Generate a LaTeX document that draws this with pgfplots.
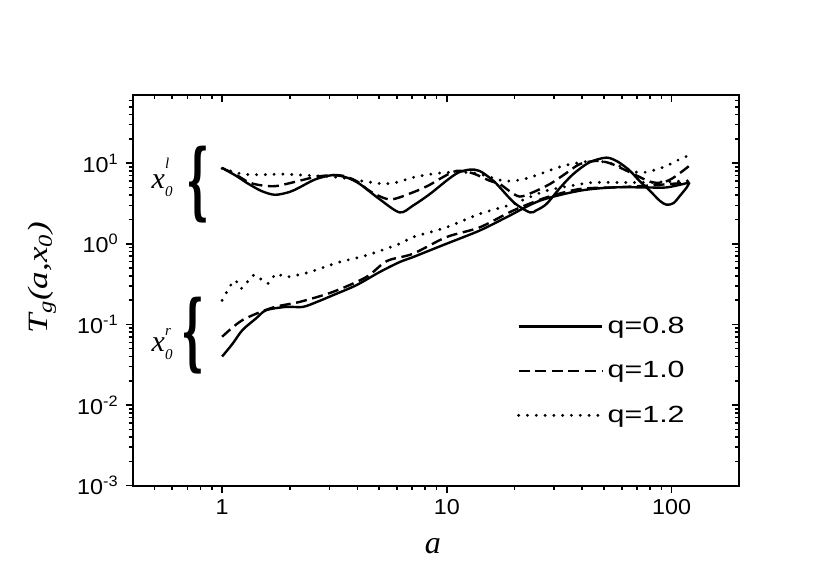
\documentclass[border=0pt]{standalone}
\usepackage{fontspec}
\setmainfont{Liberation Sans}
\newfontfamily\tickfont[FakeStretch=1.08]{Liberation Sans}
\newfontfamily\legfont[FakeStretch=1.3]{Liberation Sans}
\newfontfamily\tnr{Liberation Serif}
\newfontfamily\tnrlab[FakeStretch=1.25]{Liberation Serif}
\newfontfamily\bracefont{DejaVu Serif}
\usepackage{graphicx}
\usepackage{pgfplots}
\pgfplotsset{compat=1.18}
\tikzset{
 solidc/.style={black, line width=1.2pt},
 dashc/.style={black, line width=1.2pt, dash pattern=on 5.5pt off 2.8pt},
 dotc/.style={black, line width=1.6pt, line cap=round, dash pattern=on 0pt off 4.4pt},
}
\begin{document}
\begin{tikzpicture}
\begin{axis}[name=ax,
   xmode=log, ymode=log, scale only axis,
   width=303.3pt, height=195.35pt,
   xmin=0.4, xmax=200, ymin=0.001, ymax=70,
   axis line style={line width=1pt},
   tick style={line width=0.8pt, black},
   major tick length=3.5pt, minor tick length=2pt,
   xtick={1,10,100},
   minor xtick={0.5,0.6,0.7,0.8,0.9,2,3,4,5,6,7,8,9,20,30,40,50,60,70,80,90},
   ytick={0.001,0.01,0.1,1,10},
   minor ytick={0.002,0.003,0.004,0.005,0.006,0.007,0.008,0.009,0.02,0.03,0.04,0.05,0.06,0.07,0.08,0.09,0.2,0.3,0.4,0.5,0.6,0.7,0.8,0.9,2,3,4,5,6,7,8,9,20,30,40,50,60},
   xtick pos=bottom, ytick pos=left, tick align=outside,
   xticklabels={1,10,100},
   yticklabels={10\textsuperscript{-3},10\textsuperscript{-2},10\textsuperscript{-1},10\textsuperscript{0},10\textsuperscript{1}},
   ticklabel style={font=\tickfont\fontsize{10.8}{12}\selectfont},
   xlabel={\tnr\itshape\fontsize{16}{16}\selectfont a},
   xlabel style={at={(rel axis cs:0.495,0)}, anchor=center, yshift=-30pt},
   ylabel={\tnrlab\itshape\fontsize{14}{14}\selectfont T\textsubscript{g}(a,x\textsubscript{0})},
   ylabel style={at={(rel axis cs:0,0.532)}, anchor=center, yshift=45.35pt},
   legend style={draw=none, fill=none, at={(rel axis cs:0.633,0.443)}, anchor=north west,
      inner sep=0pt, row sep=8.5pt, font=\legfont\fontsize{11.7}{13}\selectfont},
   legend cell align=left,
   legend image code/.code={\draw[#1] (0pt,0pt) -- (41.7pt,0pt);},
]
% upper group (x0^l)
\addplot[solidc, smooth, forget plot] coordinates {
(1,8.7) (1.15,7.0) (1.3,5.6) (1.5,4.5) (1.72,4.05) (2.0,4.4) (2.21,5.0) (2.6,6.3) (3.1,7.1) (3.6,6.6) (4.1,5.5) (5.0,3.6) (6.16,2.45) (7.06,2.97) (8.4,4.14) (9.95,6.05) (11.2,7.6) (12.6,8.3) (14,8.0) (16.1,6.05) (17.2,5.0) (20,3.2) (23.4,2.45) (25,2.6) (27.75,3.12) (32,5.0) (36.5,7.32) (43,10.2) (51.3,11.7) (58,10.3) (65.2,8.03) (72,6.0) (80,4.55) (88.7,3.4) (95,3.05) (102,3.2) (109,3.95) (116.7,5.0) (120,5.76)};
\addplot[dashc, smooth, forget plot] coordinates {
(1,8.7) (1.15,7.2) (1.32,5.76) (1.5,5.3) (1.74,5.2) (2.21,6.05) (2.62,6.78) (3.11,7.11) (3.5,6.9) (4.0,5.9) (4.6,4.4) (5.6,3.55) (7.06,4.34) (8.3,5.3) (9.27,6.35) (11.0,8.0) (13,7.5) (15.5,6.05) (17.2,5.5) (19,4.5) (21.1,3.85) (24.1,4.34) (28.7,5.5) (33.5,7.32) (39,9.72) (46.3,10.68) (53,10.0) (60.9,8.43) (70,7.0) (80,5.9) (90,5.7) (100,6.4) (110,7.7) (120,9.3)};
\addplot[dotc, smooth, forget plot] coordinates {
(1,8.6) (1.23,7.32) (1.5,7.2) (1.86,7.3) (2.62,6.97) (3.33,6.64) (4.2,6.0) (5.2,5.55) (6.0,5.8) (7.06,6.64) (8.5,7.3) (9.95,7.66) (12,7.7) (14,7.32) (17.2,6.17) (19,6.0) (21.8,6.3) (25.9,7.32) (31.8,9.0) (39,10.17) (46.3,10.68) (55,9.7) (62,8.7) (70,7.7) (76,7.7) (85,8.3) (95,9.26) (112.6,11.73) (120,12.3)};
% lower group (x0^r)
\addplot[solidc, smooth] coordinates {
(1,0.040) (1.115,0.058) (1.231,0.085) (1.417,0.119) (1.57,0.150) (1.93,0.165) (2.29,0.165) (2.7,0.195) (3.11,0.230) (3.95,0.306) (5.02,0.446) (6.16,0.593) (7.06,0.683) (9.95,1.0) (14.0,1.46) (18.4,2.13) (25.9,3.42) (39,4.55) (55,5.0) (77.4,5.0) (95,5.0) (120,5.76)};
\addlegendentry{q=0.8}
\addplot[dashc, smooth] coordinates {
(1,0.0703) (1.231,0.113) (1.68,0.162) (2.21,0.190) (3.11,0.253) (4.38,0.387) (5.4,0.61) (7.06,0.752) (9.95,1.21) (14,1.60) (19.7,2.58) (27.75,3.76) (39,4.78) (55,5.0) (77.4,5.25) (120,5.76)};
\addlegendentry{q=1.0}
\addplot[dotc, smooth] coordinates {
(1,0.199) (1.134,0.352) (1.215,0.278) (1.346,0.387) (1.417,0.406) (1.596,0.321) (1.74,0.426) (1.928,0.387) (2.448,0.446) (3.33,0.593) (4.38,0.718) (6.16,1.0) (7.06,1.21) (9.95,1.60) (14,2.35) (19.7,3.12) (27.75,4.55) (40.3,5.55) (46.35,5.76) (77.4,5.76) (120,6.05)};
\addlegendentry{q=1.2}
% annotations
\node[inner sep=0pt] at (axis cs:0.780,5.47) {\resizebox*{11.5pt}{38.5pt}{\bracefont\bfseries\{}};
\node[inner sep=0pt] at (axis cs:0.745,0.0731) {\resizebox*{11.5pt}{38.5pt}{\bracefont\bfseries\{}};
\node[inner sep=0pt, anchor=base west] at (axis cs:0.484,4.82) {\tnr\itshape\fontsize{15}{15}\selectfont x\rlap{\raisebox{10pt}{\fontsize{7.5}{7.5}\selectfont l}}\raisebox{-3.8pt}{\fontsize{7.5}{7.5}\selectfont 0}};
\node[inner sep=0pt, anchor=base west] at (axis cs:0.484,0.0455) {\tnr\itshape\fontsize{15}{15}\selectfont x\rlap{\raisebox{8pt}{\fontsize{7.5}{7.5}\selectfont r}}\raisebox{-3.8pt}{\fontsize{7.5}{7.5}\selectfont 0}};
\end{axis}
\begin{axis}[at={(ax.south west)}, anchor=south west,
   xmode=log, ymode=log, scale only axis,
   width=303.3pt, height=195.35pt,
   xmin=0.4, xmax=200, ymin=0.001, ymax=70,
   axis line style={line width=1pt},
   tick style={line width=0.8pt, black},
   major tick length=3.5pt, minor tick length=2pt,
   xtick={1,10,100},
   minor xtick={0.5,0.6,0.7,0.8,0.9,2,3,4,5,6,7,8,9,20,30,40,50,60,70,80,90},
   ytick={0.001,0.01,0.1,1,10},
   minor ytick={0.002,0.003,0.004,0.005,0.006,0.007,0.008,0.009,0.02,0.03,0.04,0.05,0.06,0.07,0.08,0.09,0.2,0.3,0.4,0.5,0.6,0.7,0.8,0.9,2,3,4,5,6,7,8,9,20,30,40,50,60},
   xtick pos=top, ytick pos=right, tick align=inside,
   xticklabels={}, yticklabels={}]
\end{axis}
\path ([shift={(-66.35pt,-51.15pt)}]ax.south west) rectangle ([shift={(45.35pt,47.5pt)}]ax.north east);
\end{tikzpicture}
\end{document}
